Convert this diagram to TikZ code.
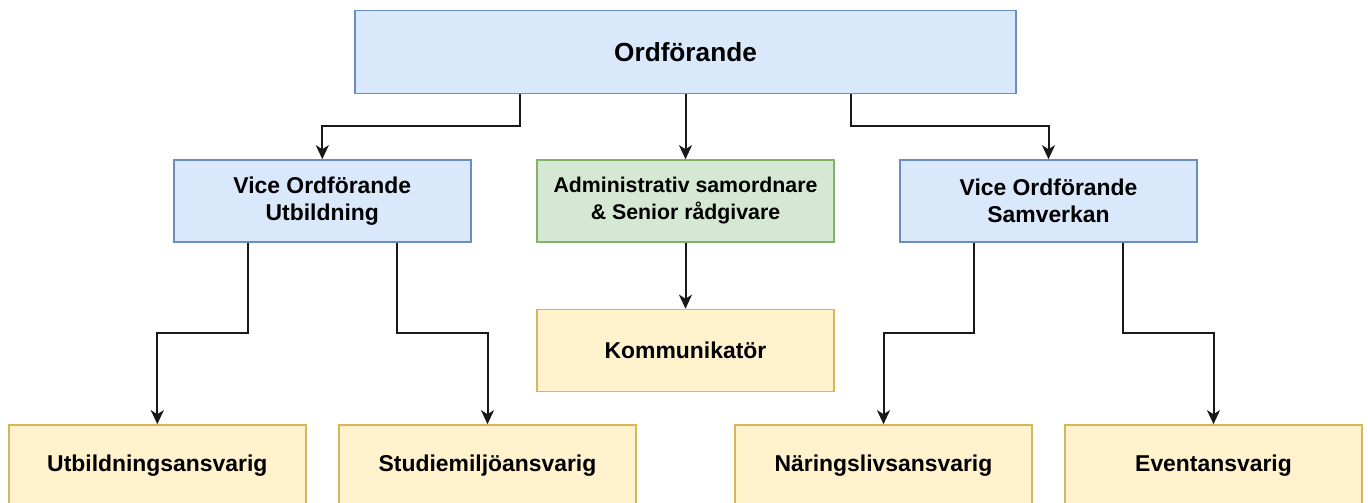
\documentclass[tikz,border=0pt]{standalone}
\usepackage{fontspec}
\setmainfont{Liberation Sans}
\usetikzlibrary{calc,arrows.meta}
\definecolor{bluefill}{HTML}{DAE8FC}
\definecolor{bluedraw}{HTML}{6C8EBF}
\definecolor{greenfill}{HTML}{D5E8D4}
\definecolor{greendraw}{HTML}{82B366}
\definecolor{yellowfill}{HTML}{FFF2CC}
\definecolor{yellowdraw}{HTML}{D6B656}
\tikzset{
  box/.style={rectangle, line width=1.6pt, inner sep=0pt, minimum width=297pt, minimum height=82pt,
    align=center, font=\bfseries\fontsize{22.9}{27}\selectfont, text=black},
  bluebox/.style={box, fill=bluefill, draw=bluedraw},
  greenbox/.style={box, fill=greenfill, draw=greendraw},
  yellowbox/.style={box, fill=yellowfill, draw=yellowdraw},
  arr/.style={line width=2pt, draw=black!90, -{Stealth[length=14pt,width=13pt,inset=4pt]}}
}
\begin{document}
\begin{tikzpicture}[x=1pt,y=-1pt]
\useasboundingbox (0,0) rectangle (1368,503);
\clip (0,0) rectangle (1368,503);
\fill[white] (0,0) rectangle (1368,503);
% nodes
\node[bluebox, minimum width=661pt, minimum height=83pt, font=\bfseries\fontsize{26.2}{30}\selectfont] (top) at (685.5,52) {Ordförande};
\node[bluebox] (vou) at (322.3,201) {Vice Ordförande\\Utbildning};
\node[greenbox, font=\bfseries\fontsize{21.3}{27}\selectfont] (adm) at (685.5,201) {Administrativ samordnare\\\& Senior rådgivare};
\node[bluebox] (vos) at (1048.5,201) {Vice Ordförande\\Samverkan};
\node[yellowbox] (kom) at (685.5,350.5) {Kommunikatör};
\node[yellowbox] (utb) at (157.3,466) {\raisebox{-2pt}{Utbildningsansvarig}};
\node[yellowbox] (stu) at (487.5,466) {\raisebox{-2pt}{Studiemiljöansvarig}};
\node[yellowbox] (nar) at (883.5,466) {\raisebox{-2pt}{Näringslivsansvarig}};
\node[yellowbox] (eve) at (1213.5,466) {\raisebox{-2pt}{Eventansvarig}};
% helper coordinates
\coordinate (r1) at (0,126);
\coordinate (r2) at (0,333.3);
\coordinate (t1) at ($(top.south west)!0.25!(top.south east)$);
\coordinate (t2) at ($(top.south west)!0.75!(top.south east)$);
\coordinate (u1) at ($(vou.south west)!0.25!(vou.south east)$);
\coordinate (u2) at ($(vou.south west)!0.75!(vou.south east)$);
\coordinate (s1) at ($(vos.south west)!0.25!(vos.south east)$);
\coordinate (s2) at ($(vos.south west)!0.75!(vos.south east)$);
% connectors
\draw[arr] (t1) -- (t1 |- r1) -| (vou.north);
\draw[arr] (top.south) -- (adm.north);
\draw[arr] (t2) -- (t2 |- r1) -| (vos.north);
\draw[arr] (adm.south) -- (kom.north);
\draw[arr] (u1) -- (u1 |- r2) -| (utb.north);
\draw[arr] (u2) -- (u2 |- r2) -| (stu.north);
\draw[arr] (s1) -- (s1 |- r2) -| (nar.north);
\draw[arr] (s2) -- (s2 |- r2) -| (eve.north);
\end{tikzpicture}
\end{document}
